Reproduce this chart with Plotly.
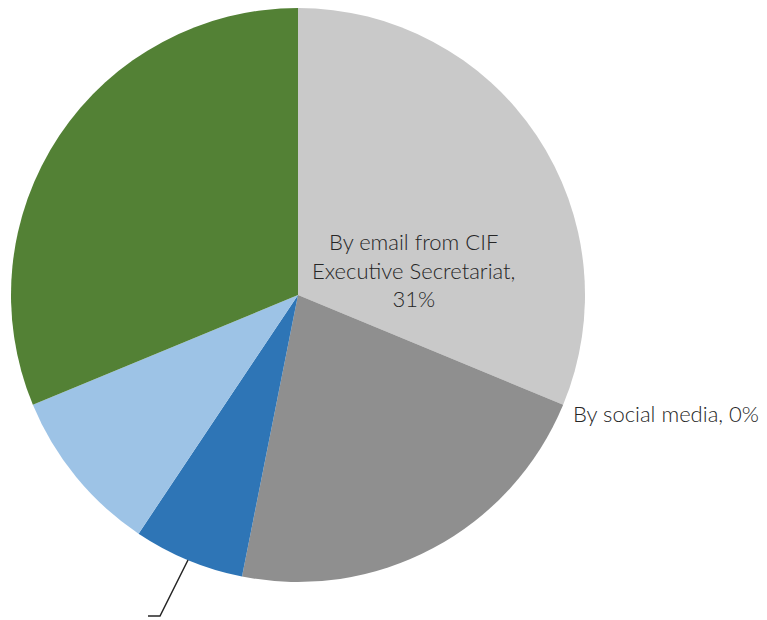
import plotly.graph_objects as go

labels = ["By email from CIF Executive Secretariat", "By social media",
          "Other channel A", "Other channel B", "Other channel C", "Other channel D"]
values = [10, 0, 7, 2, 3, 10]
colors = ["#c9c9c9", "#d9d9d9", "#8f8f8f", "#2e75b6", "#9dc3e6", "#538135"]

W, H = 767, 620

fig = go.Figure(go.Pie(
    labels=labels, values=values, sort=False, direction="clockwise", rotation=0,
    marker=dict(colors=colors, line=dict(width=0)),
    textinfo="none", hoverinfo="label+percent", showlegend=False,
    domain=dict(x=[11 / W, 585 / W], y=[(H - 582) / H, (H - 8) / H]),
))

font = dict(family="Lato, Open Sans, sans-serif", size=22, color="#262626", weight=300)
total = sum(values)
fig.add_annotation(x=414 / W, y=(H - 270) / H, xref="paper", yref="paper",
                   text=f"By email from CIF<br>Executive Secretariat,<br>{round(100 * values[0] / total)}%",
                   showarrow=False, font=font, align="center")
fig.add_annotation(x=571 / W, y=(H - 413) / H, xref="paper", yref="paper",
                   xanchor="left", text=f"By social media, {round(100 * values[1] / total)}%",
                   showarrow=False, font=font)

def px(x, y):
    return f"{x / W} {(H - y) / H}"

fig.add_shape(type="path", xref="paper", yref="paper",
              path=f"M {px(188, 560)} L {px(160, 616)} L {px(148, 616)}",
              line=dict(color="#262626", width=1.5))

fig.update_layout(width=W, height=H, margin=dict(l=0, r=0, t=0, b=0),
                  paper_bgcolor="white", plot_bgcolor="white")
fig.write_html("out.html")
